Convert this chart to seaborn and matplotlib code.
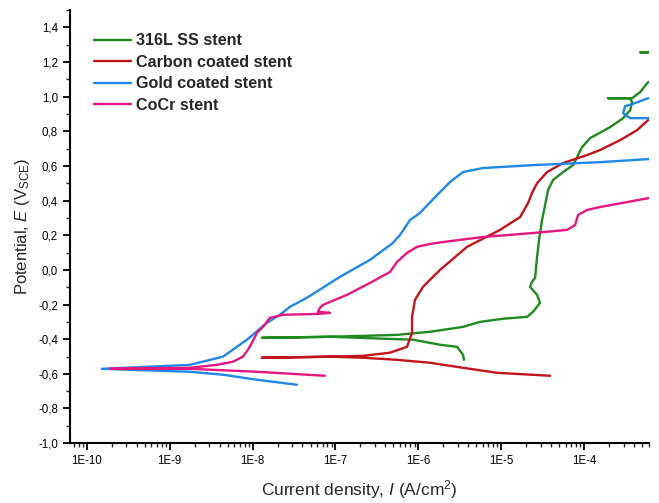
import numpy as np
import pandas as pd
import matplotlib
matplotlib.use("Agg")
import matplotlib.pyplot as plt
import matplotlib.ticker as mticker
import seaborn as sns

# ---- data (log10 of current density in A/cm^2, potential in V vs SCE), in scan order ----
ss_logi = [-5.449, -5.461, -5.533, -5.738, -6.064, -7.066, -7.887,
           -7.066, -6.257, -5.859, -5.461, -5.255, -4.978, -4.688, -4.616, -4.531,
           -4.567, -4.652, -4.628, -4.591, -4.567, -4.543, -4.507, -4.470, -4.434,
           -4.374, -4.253, -4.133, -4.084, -4.024, -3.927, -3.686, -3.529, -3.444,
           -3.420, -3.444, -3.710, -3.420, -3.324, -3.227, -2.599, -2.80, -3.324, -2.70]
ss_E = [-0.519, -0.490, -0.444, -0.432, -0.403, -0.386, -0.392,
        -0.386, -0.375, -0.357, -0.329, -0.300, -0.282, -0.271, -0.242, -0.190,
        -0.144, -0.098, -0.069, -0.046, 0.075, 0.173, 0.288, 0.375, 0.461,
        0.519, 0.565, 0.605, 0.651, 0.709, 0.761, 0.824, 0.876, 0.922,
        0.968, 0.991, 0.991, 0.991, 1.026, 1.084, 1.160, 1.256, 1.256, 1.262]

carbon_logi = [-4.410, -5.050, -5.461, -5.859, -6.257, -6.668, -7.066, -7.887,
               -7.066, -6.668, -6.342, -6.137, -6.076, -6.076, -6.040, -5.944,
               -5.823, -5.738, -5.412, -5.014, -4.772, -4.676, -4.628, -4.567,
               -4.446, -4.253, -3.964, -3.807, -3.565, -3.360, -3.227, -2.599]
carbon_E = [-0.611, -0.594, -0.565, -0.536, -0.519, -0.507, -0.501, -0.507,
            -0.501, -0.496, -0.478, -0.444, -0.363, -0.271, -0.173, -0.098,
            -0.040, 0.000, 0.133, 0.231, 0.305, 0.386, 0.444, 0.501,
            0.565, 0.617, 0.663, 0.692, 0.749, 0.807, 0.865, 0.980]

gold_logi = [-7.465, -7.948, -8.358, -8.756, -9.819,
             -8.756, -8.358, -8.068, -7.827, -7.670, -7.549, -7.392, -7.308,
             -6.946, -6.583, -6.306, -6.221, -6.100, -5.980, -5.774, -5.618,
             -5.461, -5.219, -4.616, -3.807, -3.215, -2.50, -2.80, -3.215,
             -3.444, -3.529, -3.505, -3.420, -3.227, -2.599]
gold_E = [-0.663, -0.634, -0.605, -0.588, -0.571,
          -0.548, -0.501, -0.403, -0.305, -0.259, -0.213, -0.173, -0.150,
          -0.040, 0.058, 0.156, 0.202, 0.288, 0.329, 0.432, 0.507,
          0.565, 0.588, 0.605, 0.622, 0.640, 0.750, 0.876, 0.876,
          0.876, 0.905, 0.945, 0.957, 0.991, 1.060]

cocr_logi = [-7.127, -7.948, -8.756, -9.722,
             -8.756, -8.431, -8.237, -8.117, -8.056, -8.008, -7.948, -7.875,
             -7.791, -7.634, -7.211, -7.066, -7.211, -7.187, -7.151, -6.861,
             -6.583, -6.342, -6.257, -6.137, -6.016, -5.859, -5.702, -5.219,
             -4.616, -4.205, -4.109, -4.072, -3.964, -3.807, -3.215]
cocr_E = [-0.611, -0.588, -0.571, -0.571,
          -0.565, -0.548, -0.530, -0.501, -0.461, -0.421, -0.363, -0.329,
          -0.277, -0.259, -0.254, -0.248, -0.242, -0.219, -0.202, -0.144,
          -0.075, -0.012, 0.046, 0.098, 0.133, 0.150, 0.161, 0.190,
          0.213, 0.231, 0.259, 0.317, 0.346, 0.363, 0.415]

series_names = ["316L SS stent", "Carbon coated stent", "Gold coated stent", "CoCr stent"]
series_logi = [ss_logi, carbon_logi, gold_logi, cocr_logi]
series_E = [ss_E, carbon_E, gold_E, cocr_E]
series_colors = ["#1f8a1f", "#c2151b", "#1f88e5", "#e3177f"]

x_ticks = [1e-10, 1e-9, 1e-8, 1e-7, 1e-6, 1e-5, 1e-4]
x_tick_labels = ["1E-10", "1E-9", "1E-8", "1E-7", "1E-6", "1E-5", "1E-4"]
y_ticks = [-1.0, -0.8, -0.6, -0.4, -0.2, 0.0, 0.2, 0.4, 0.6, 0.8, 1.0, 1.2, 1.4]

# ---- style ----
sns.set_style("ticks")
plt.rcParams["font.family"] = ["Liberation Sans", "DejaVu Sans"]
plt.rcParams["mathtext.fontset"] = "custom"
plt.rcParams["mathtext.rm"] = "Liberation Sans"
plt.rcParams["mathtext.it"] = "Liberation Sans:italic"
plt.rcParams["mathtext.bf"] = "Liberation Sans:bold"

fig = plt.figure(figsize=(6.59, 5.03), dpi=100)
ax = fig.add_axes([0.106, 0.119, 0.879, 0.861])

for name, li, E, c in zip(series_names, series_logi, series_E, series_colors):
    df = pd.DataFrame({"I": 10 ** np.array(li), "E": E})
    sns.lineplot(data=df, x="I", y="E", sort=False, estimator=None,
                 color=c, lw=1.7, label=name, ax=ax)

ax.set_xscale("log")
ax.set_xlim(10 ** -10.205, 10 ** -3.215)
ax.set_ylim(-1.0, 1.5)

ax.xaxis.set_major_locator(mticker.FixedLocator(x_ticks))
ax.xaxis.set_major_formatter(mticker.FixedFormatter(x_tick_labels))
ax.xaxis.set_minor_locator(mticker.LogLocator(base=10, subs=np.arange(2, 10), numticks=20))
ax.xaxis.set_minor_formatter(mticker.NullFormatter())

ax.yaxis.set_major_locator(mticker.FixedLocator(y_ticks))
ax.yaxis.set_major_formatter(mticker.FuncFormatter(lambda v, p: f"{round(v, 1):.1f}".replace(".", ",").replace("-0,0", "0,0")))
ax.yaxis.set_minor_locator(mticker.MultipleLocator(0.1))

for s in ["top", "right"]:
    ax.spines[s].set_visible(False)
for s in ["left", "bottom"]:
    ax.spines[s].set_linewidth(1.5)
    ax.spines[s].set_color("black")

ax.tick_params(which="major", direction="out", length=5, width=1.3, labelsize=8.3, colors="black")
ax.tick_params(which="minor", direction="out", length=3, width=1.0)

ax.set_xlabel(r"Current density, $I$ (A/cm$^2$)", fontsize=12.5, labelpad=8)
ax.set_ylabel(r"Potential, $E$ (V$_{\mathrm{SCE}}$)", fontsize=12, labelpad=4)

leg = ax.legend(loc="upper left", bbox_to_anchor=(0.041, 0.946), frameon=False,
                borderaxespad=0, borderpad=0, handlelength=2.35, handletextpad=0.3,
                labelspacing=0.40, prop={"weight": "bold", "size": 11.6})
for line in leg.get_lines():
    line.set_linewidth(1.7)

fig.savefig("out.png", dpi=100)
